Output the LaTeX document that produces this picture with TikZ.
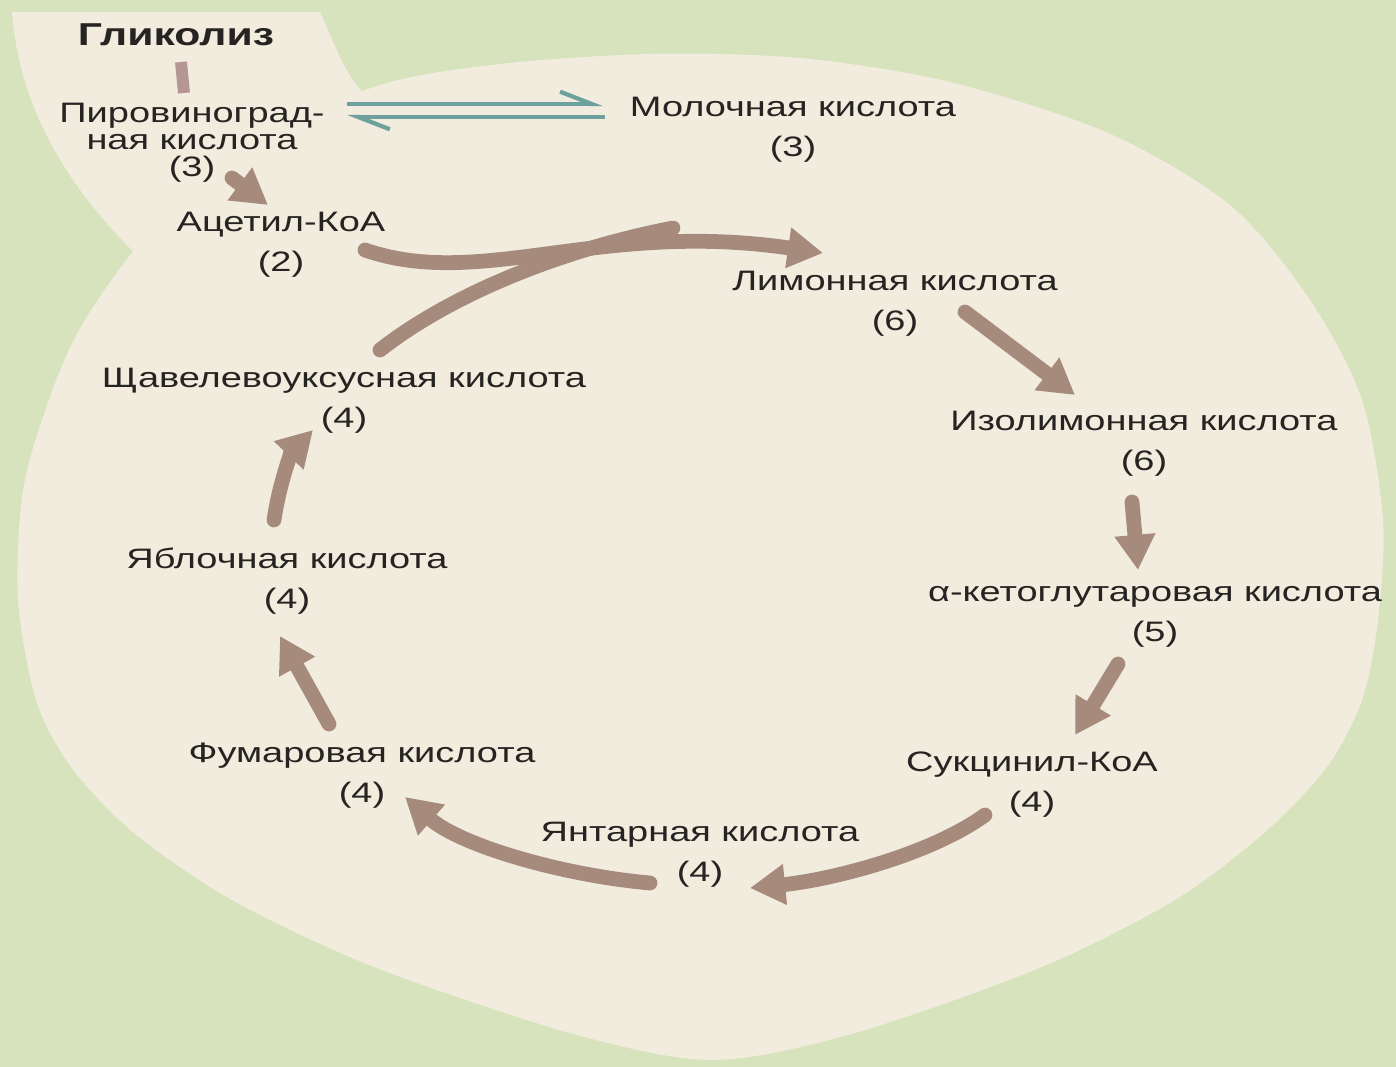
\documentclass[tikz,border=0pt]{standalone}
\usepackage{fontspec}
\setmainfont{Liberation Sans}[FakeStretch=1.35]
\usepackage{xcolor}
\usepackage{tikz}
\usetikzlibrary{arrows.meta,positioning,calc}

\definecolor{bgcol}{RGB}{214,227,189}
\definecolor{blobcol}{RGB}{241,236,221}
\definecolor{arrcol}{RGB}{166,138,124}
\definecolor{stubcol}{RGB}{182,150,146}
\definecolor{txtcol}{RGB}{38,36,34}
\definecolor{eqcol}{RGB}{110,160,158}

\begin{document}
\begin{tikzpicture}[x=0.01cm,y=-0.01cm,
  lbl/.style={align=center,text=txtcol,inner sep=0pt,font=\fontsize{8}{11.4}\selectfont},
  flow/.style={draw=arrcol,line width=4.2pt,line cap=round,-{Triangle[length=10pt,width=11pt]}},
  eq/.style={draw=eqcol,line width=1.2pt,-{Straight Barb[left,length=9pt,width=7pt]}}]

  % background and the cell
  \useasboundingbox (0,0) rectangle (1396,1067);
  \fill[bgcol] (0,0) rectangle (1396,1067);
  \fill[blobcol] plot[smooth cycle] coordinates {
    (79,330) (150,232) (260,140) (380,85) (500,64) (650,54) (800,58)
    (950,82) (1108,133) (1230,205) (1310,300) (1362,400) (1383,520)
    (1378,620) (1362,700) (1327,767) (1264,833) (1175,900) (1042,967)
    (855,1033) (712,1060) (570,1033) (374,967) (232,900) (134,833)
    (71,767) (36,700) (18,600) (22,497) (42,420)};
  \fill[blobcol] (12,12) -- (320,12) .. controls (335,45) and (345,75) .. (365,95)
    -- (330,220) -- (140,258) .. controls (80,200) and (20,120) .. (12,12) -- cycle;

  % substances
  \node[lbl,font=\fontsize{9}{11}\selectfont\bfseries] (gly) at (176,35) {Гликолиз};
  \node[lbl,font=\fontsize{8}{7.7}\selectfont] (pvk) at (192,143) {Пировиноград-\\ная кислота\\(3)};
  \node[lbl] (mol) at (793,130) {Молочная кислота\\(3)};
  \node[lbl] (ac) at (281,245) {Ацетил-КоА\\(2)};
  \node[lbl] (lim) at (895,304) {Лимонная кислота\\(6)};
  \node[lbl] (iso) at (1144,444) {Изолимонная кислота\\(6)};
  \node[lbl] (akg) at (1155,617) {α-кетоглутаровая кислота\\(5)};
  \node[lbl] (suc) at (1032,785) {Сукцинил-КоА\\(4)};
  \node[lbl] (yan) at (700,855) {Янтарная кислота\\(4)};
  \node[lbl] (fum) at (362,776) {Фумаровая кислота\\(4)};
  \node[lbl] (yab) at (287,581) {Яблочная кислота\\(4)};
  \node[lbl] (oaa) at (344,401) {Щавелевоуксусная кислота\\(4)};
  \coordinate (join) at (673,228);

  % glycolysis and lactate
  \draw[stubcol,line width=3.4pt] ([shift={(5,27)}]gly.center) -- ([shift={(-8,-50)}]pvk.center);
  \draw[eq] ([shift={(155,-39)}]pvk.center) -- ([shift={(-190,-26)}]mol.center);
  \draw[eq] ([shift={(-188,-13)}]mol.center) -- ([shift={(155,-26)}]pvk.center);
  \draw[flow] ([shift={(40,35)}]pvk.center) -- ([shift={(-13,-40)}]ac.center);

  % the cycle
  \draw[draw=arrcol,line width=4.2pt,line cap=round] ([shift={(36,-51)}]oaa.center)
    .. controls (450,295) and (560,250) .. (join);
  \draw[flow] ([shift={(84,5)}]ac.center) .. controls (480,290) and (600,220) .. ([shift={(-72,-51)}]lim.center);
  \draw[flow] ([shift={(70,8)}]lim.center) -- ([shift={(-69,-49)}]iso.center);
  \draw[flow] ([shift={(-12,58)}]iso.center) -- ([shift={(-17,-47)}]akg.center);
  \draw[flow] ([shift={(-37,47)}]akg.center) -- ([shift={(43,-50)}]suc.center);
  \draw[flow] ([shift={(-47,30)}]suc.center) .. controls (930,855) and (830,880) .. ([shift={(50,33)}]yan.center);
  \draw[flow] ([shift={(-50,28)}]yan.center) .. controls (560,875) and (460,845) .. ([shift={(43,21)}]fum.center);
  \draw[flow] ([shift={(-33,-52)}]fum.center) -- ([shift={(-7,55)}]yab.center);
  \draw[flow] ([shift={(-13,-61)}]yab.center) .. controls (280,480) and (292,452) .. ([shift={(-31,29)}]oaa.center);
\end{tikzpicture}
\end{document}
